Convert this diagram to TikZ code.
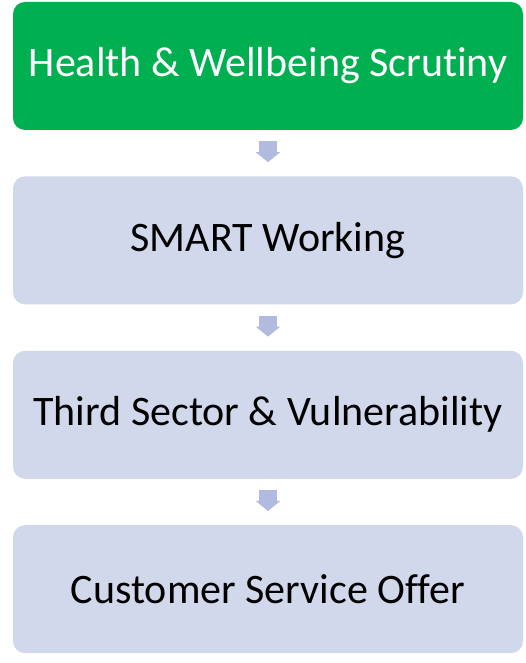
\documentclass[tikz,border=0pt]{standalone}
\usepackage{fontspec}
\setmainfont{Carlito}[Ligatures=NoCommon]
\usepackage{tikz}
\usetikzlibrary{positioning}
\usetikzlibrary{arrows.meta}
\definecolor{stepgreen}{HTML}{00B050}
\definecolor{steplight}{HTML}{D2D8EB}
\definecolor{arrowblue}{HTML}{B1BBDF}
\tikzset{
  x=1pt,y=1pt,
  box/.style={shape=rectangle,rounded corners=12pt,fill=steplight,minimum width=510pt,minimum height=128pt,inner sep=0,font=\fontsize{42}{48}\selectfont},
  topbox/.style={box,fill=stepgreen,text=white},
  flow/.style={draw=arrowblue,line width=18pt,-{Triangle[width=24pt,length=10pt]},shorten <=11pt,shorten >=14pt}
}
\begin{document}
\begin{tikzpicture}
      \useasboundingbox (0,0) rectangle (525,663);
      \node[topbox] (b1) at (268,597) {Health \& Wellbeing Scrutiny};
      \node[box,below=46pt of b1] (b2) {SMART Working};
      \node[box,below=46pt of b2] (b3) {Third Sector \& Vulnerability};
      \node[box,below=46pt of b3] (b4) {Customer Service Offer};
      \begin{scope}
        \draw[flow] (b1) -- (b2);
        \draw[flow] (b2) -- (b3);
        \draw[flow] (b3) -- (b4);
      \end{scope}
    \end{tikzpicture}
\end{document}
